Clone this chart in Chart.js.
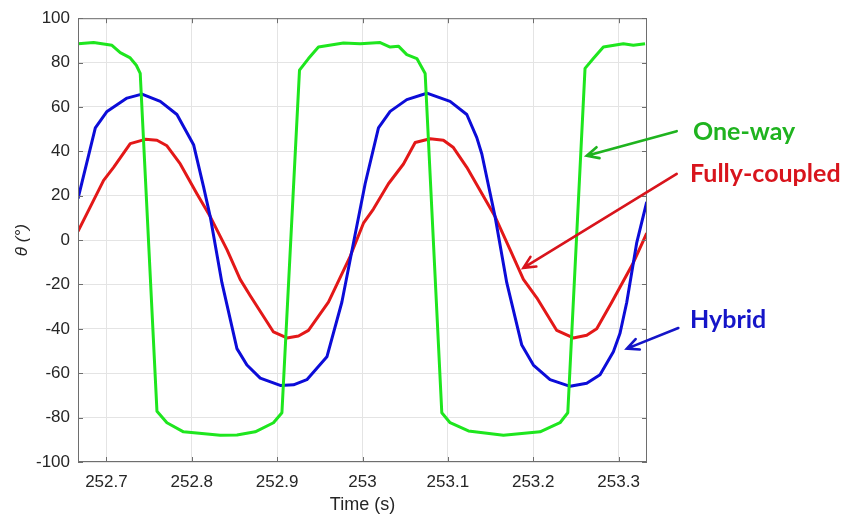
<!DOCTYPE html>
<html>
<head>
<meta charset="utf-8">
<script src="https://cdn.jsdelivr.net/npm/chart.js@4.4.1/dist/chart.umd.min.js"></script>
<style>
  html, body { margin: 0; padding: 0; background: #fff; }
  #chart { display: block; }
</style>
</head>
<body>
<canvas id="chart" width="850" height="520"></canvas>
<script>
// theta vs time, three coupling methods
const X_TICKS = [252.7, 252.8, 252.9, 253, 253.1, 253.2, 253.3];
const Y_TICKS = [-100, -80, -60, -40, -20, 0, 20, 40, 60, 80, 100];

const TIME_ONEWAY = [
  252.6667, 252.6850, 252.7065, 252.7162, 252.7279, 252.7350, 252.7396, 252.7592,
  252.7709, 252.7903, 252.8333, 252.8529, 252.8743, 252.8957, 252.9056, 252.9262,
  252.9367, 252.9484, 252.9777, 252.9973, 253.0207, 253.0324, 253.0421, 253.0519,
  253.0637, 253.0734, 253.0929, 253.1026, 253.1241, 253.1651, 253.2080, 253.2314,
  253.2405, 253.2607, 253.2704, 253.2822, 253.3056, 253.3173, 253.3310,
];
const ONEWAY = [
  88.5, 89, 87.8, 84.5, 82.1, 78.8, 75.1, -77.1,
  -82.3, -86.4, -87.9, -87.8, -86.4, -82.3, -77.8, 76.6,
  81.8, 87, 88.8, 88.5, 89, 87, 87.4, 83.6,
  81.8, 75.1, -77.8, -82.3, -86, -87.9, -86.4, -82.3,
  -77.8, 77.4, 81.8, 87, 88.5, 87.8, 88.5,
];

const TIME_FULLY = [
  252.6667, 252.6811, 252.6967, 252.7084, 252.7279, 252.7455, 252.7592, 252.7709,
  252.7865, 252.8060, 252.8216, 252.8412, 252.8567, 252.8685, 252.8957, 252.9114,
  252.9250, 252.9367, 252.9601, 252.9856, 253.0011, 253.0128, 253.0304, 253.0480,
  253.0617, 253.0792, 253.0948, 253.1065, 253.1222, 253.1378, 253.1553, 253.1729,
  253.1885, 253.2042, 253.2276, 253.2470, 253.2627, 253.2744, 253.2920, 253.3173,
  253.3330,
];
const FULLY = [
  3.9, 15, 26.9, 32.8, 43.5, 45.4, 45, 42.5,
  34.3, 20.9, 10.6, -4.3, -17.7, -25.1, -41.4, -44.1,
  -43.2, -40.7, -28, -7.3, 7.6, 14, 25.4, 34.3,
  44, 45.7, 45, 41.7, 32.8, 22.4, 10.6, -4.3,
  -17.7, -26, -40.7, -44.1, -42.9, -40, -28, -10.2,
  3.1,
];

const TIME_HYBRID = [
  252.6667, 252.6870, 252.7007, 252.7241, 252.7416, 252.7631, 252.7826, 252.8021,
  252.8138, 252.8216, 252.8353, 252.8529, 252.8646, 252.8802, 252.9036, 252.9192,
  252.9348, 252.9583, 252.9758, 252.9894, 253.0031, 253.0187, 253.0324, 253.0519,
  253.0754, 253.1026, 253.1222, 253.1339, 253.1398, 253.1553, 253.1690, 253.1866,
  253.2002, 253.2197, 253.2432, 253.2627, 253.2783, 253.2939, 253.3017, 253.3096,
  253.3213, 253.3330,
];
const HYBRID = [
  18.7, 50.6, 58, 64, 65.8, 62.5, 56.6, 43,
  24, 10.6, -19.2, -48.9, -56.3, -62.2, -65.5, -65.2,
  -62.9, -52.6, -28, -1.3, 25.4, 50.6, 58, 63.3,
  66.2, 62.5, 56.6, 46.2, 38.8, 10.6, -19.2, -47.3,
  -56.3, -62.9, -65.9, -64.5, -60.7, -50.3, -42, -28,
  -1.1, 17.2,
];

// callouts, anchored in data coordinates
const CALLOUTS = [
  { text: 'One-way', color: '#1fb31f', label: [253.3872, 48.6], tail: [253.3681, 49.1], tip: [253.2627, 38.0] },
  { text: 'Fully-coupled', color: '#d8141c', label: [253.3837, 29.8], tail: [253.3681, 29.8], tip: [253.1885, -12.5] },
  { text: 'Hybrid', color: '#1515c8', label: [253.3837, -36.1], tail: [253.3700, -39.6], tip: [253.3097, -48.9] },
];

const toPoints = (xs, ys) => xs.map((x, i) => ({ x, y: ys[i] }));

function drawArrow(ctx, x1, y1, x2, y2, color) {
  const ang = Math.atan2(y2 - y1, x2 - x1);
  const len = 13, spread = 0.45;
  ctx.save();
  ctx.strokeStyle = color;
  ctx.lineWidth = 2.6;
  ctx.lineCap = 'round';
  ctx.beginPath();
  ctx.moveTo(x1, y1);
  ctx.lineTo(x2, y2);
  ctx.moveTo(x2 - len * Math.cos(ang - spread), y2 - len * Math.sin(ang - spread));
  ctx.lineTo(x2, y2);
  ctx.lineTo(x2 - len * Math.cos(ang + spread), y2 - len * Math.sin(ang + spread));
  ctx.stroke();
  ctx.restore();
}

// MATLAB-style box with inward ticks
const boxPlugin = {
  id: 'box',
  afterDraw(chart) {
    const { ctx, chartArea: a, scales: { x, y } } = chart;
    const t = 5;
    ctx.save();
    ctx.strokeStyle = '#6e6e6e';
    ctx.lineWidth = 1;
    ctx.strokeRect(a.left + 0.5, a.top + 0.5, a.right - a.left - 1, a.bottom - a.top - 1);
    ctx.beginPath();
    X_TICKS.forEach(v => {
      const px = Math.round(x.getPixelForValue(v)) + 0.5;
      ctx.moveTo(px, a.bottom); ctx.lineTo(px, a.bottom - t);
      ctx.moveTo(px, a.top); ctx.lineTo(px, a.top + t);
    });
    Y_TICKS.forEach(v => {
      const py = Math.round(y.getPixelForValue(v)) + 0.5;
      ctx.moveTo(a.left, py); ctx.lineTo(a.left + t, py);
      ctx.moveTo(a.right, py); ctx.lineTo(a.right - t, py);
    });
    ctx.stroke();
    ctx.restore();

    // callouts
    CALLOUTS.forEach(c => {
      drawArrow(ctx,
        x.getPixelForValue(c.tail[0]), y.getPixelForValue(c.tail[1]),
        x.getPixelForValue(c.tip[0]), y.getPixelForValue(c.tip[1]), c.color);
      ctx.save();
      ctx.fillStyle = c.color;
      ctx.font = 'bold 25px Lato, "Open Sans", sans-serif';
      ctx.textBaseline = 'middle';
      ctx.textAlign = 'left';
      ctx.fillText(c.text, x.getPixelForValue(c.label[0]), y.getPixelForValue(c.label[1]));
      ctx.restore();
    });
  },
};

const lineStyle = { fill: false, tension: 0, pointRadius: 0, borderWidth: 3, borderJoinStyle: 'round' };

new Chart(document.getElementById('chart'), {
  type: 'line',
  data: {
    datasets: [
      { label: 'One-way', data: toPoints(TIME_ONEWAY, ONEWAY), borderColor: '#1ee61e', ...lineStyle },
      { label: 'Hybrid', data: toPoints(TIME_HYBRID, HYBRID), borderColor: '#0c0cd8', ...lineStyle },
      { label: 'Fully-coupled', data: toPoints(TIME_FULLY, FULLY), borderColor: '#e31818', ...lineStyle },
    ],
  },
  options: {
    responsive: false,
    animation: false,
    devicePixelRatio: 1,
    layout: { padding: { left: 0, right: 203, top: 12, bottom: 0 } },
    plugins: { legend: { display: false }, tooltip: { enabled: false } },
    scales: {
      x: {
        type: 'linear',
        min: 252.6667,
        max: 253.3333,
        afterBuildTicks: s => { s.ticks = X_TICKS.map(value => ({ value })); },
        afterFit: s => { s.height = 58; },
        grid: { color: '#e4e4e4', drawTicks: false },
        border: { display: false },
        ticks: {
          padding: 10,
          maxRotation: 0,
          color: '#262626',
          font: { family: '"Liberation Sans", Arial, sans-serif', size: 17 },
          callback: v => String(v),
        },
        title: {
          display: true,
          text: 'Time (s)',
          color: '#262626',
          font: { family: '"Liberation Sans", Arial, sans-serif', size: 18 },
          padding: { top: 0, bottom: 4 },
        },
      },
      y: {
        min: -100,
        max: 100,
        afterBuildTicks: s => { s.ticks = Y_TICKS.map(value => ({ value })); },
        afterFit: s => { s.width = 78; },
        grid: { color: '#e4e4e4', drawTicks: false },
        border: { display: false },
        ticks: {
          padding: 8,
          color: '#262626',
          font: { family: '"Liberation Sans", Arial, sans-serif', size: 17 },
        },
        title: {
          display: true,
          text: 'θ (°)',
          color: '#262626',
          font: { family: '"Liberation Sans", Arial, sans-serif', size: 17, style: 'italic' },
          padding: { top: 12, bottom: 0 },
        },
      },
    },
  },
  plugins: [boxPlugin],
});
</script>
</body>
</html>
